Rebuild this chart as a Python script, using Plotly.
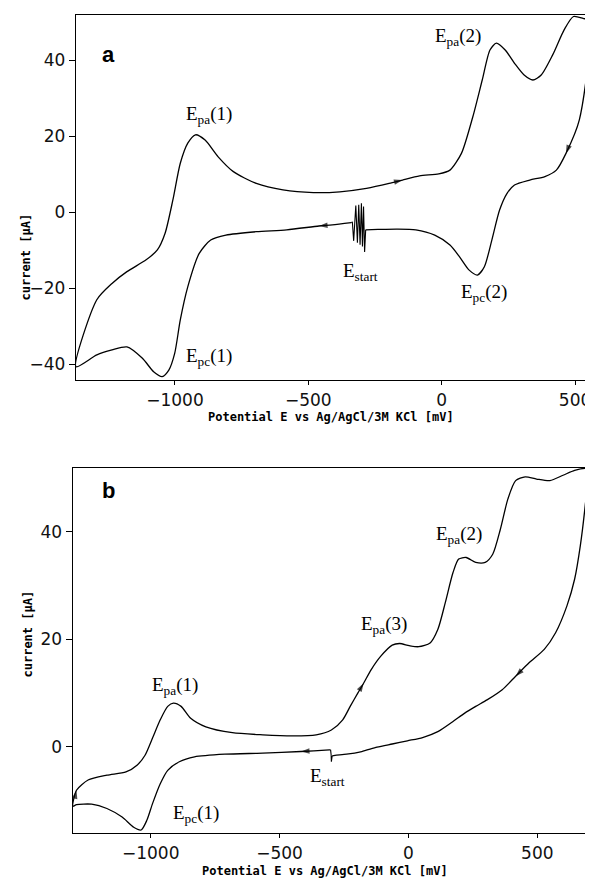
import plotly.graph_objects as go

# ---------------- Panel a data (mV, uA) ----------------
a_lower_x = [-339, -410, -460, -581, -695, -809, -866, -909, -952, -980, -1001, -1023, -1048, -1080, -1122, -1180, -1236, -1293, -1371]
a_lower_y = [-2.7, -3.3, -3.6, -4.6, -5.1, -6.0, -7.3, -10.8, -19.6, -28.3, -37.1, -41.5, -43.2, -41.9, -38.4, -35.4, -36.2, -37.5, -40.6]
a_upper_x = [-1371, -1293, -1236, -1180, -1108, -1066, -1037, -1008, -980, -952, -923, -887, -838, -781, -695, -595, -481, -382, -282, -197, -147, -83, -11, 31, 74, 117, 152, 181, 205, 238, 273, 309, 342, 373, 416, 459, 494, 530, 556]
a_upper_y = [-31.8, -23.0, -18.7, -15.6, -12.5, -9.9, -5.5, 3.2, 12.9, 18.2, 20.4, 19.0, 14.6, 10.7, 7.6, 5.9, 5.2, 5.4, 6.3, 7.6, 8.5, 9.6, 10.1, 11.1, 15.5, 25.2, 34.8, 42.7, 44.5, 42.7, 39.2, 36.1, 34.8, 36.1, 41.4, 48.0, 51.5, 51.0, 50.4]
a_rev_x = [556, 516, 466, 430, 387, 330, 273, 245, 217, 188, 160, 134, 103, 67, 31, -26, -97, -168, -239, -285]
a_rev_y = [33.9, 24.3, 15.5, 11.1, 9.4, 8.5, 7.2, 5.0, 0.6, -7.3, -14.3, -16.5, -15.2, -11.7, -8.6, -6.0, -4.6, -4.4, -4.5, -4.6]
a_noise_x = [-285, -289, -293, -297, -301, -306, -311, -316, -322, -330, -335, -339]
a_noise_y = [-4.6, -10.4, 1.5, -9.0, 2.4, -8.5, 2.0, -8.0, 1.8, -7.5, -2.5, -2.7]
a_lower_arrows = [-460]
a_upper_arrows = [-147]
a_rev_arrows = [466]

# ---------------- Panel b data (mV, uA) ----------------
b_lower_x = [-302, -307, -417, -565, -712, -830, -889, -934, -963, -993, -1015, -1037, -1066, -1111, -1170, -1229, -1288, -1302]
b_lower_y = [-0.6, -0.6, -0.9, -1.2, -1.4, -1.9, -2.8, -4.4, -6.9, -10.6, -13.7, -15.5, -15.0, -13.1, -11.5, -10.7, -10.8, -11.1]
b_upper_x = [-1302, -1288, -1243, -1170, -1096, -1052, -1022, -993, -963, -934, -912, -882, -845, -786, -683, -565, -447, -358, -299, -255, -226, -196, -174, -145, -108, -63, -34, 3, 40, 84, 114, 143, 173, 195, 224, 261, 298, 327, 357, 386, 416, 453, 497, 549, 600, 645, 689, 699]
b_upper_y = [-10.6, -8.1, -6.2, -5.3, -4.7, -3.4, -1.6, 1.6, 5.0, 7.5, 8.1, 7.5, 5.3, 3.7, 2.6, 2.2, 2.0, 2.2, 3.1, 5.0, 7.5, 10.0, 11.8, 14.3, 16.8, 18.9, 19.2, 18.8, 18.6, 19.3, 21.8, 26.8, 32.4, 34.9, 35.2, 34.3, 34.3, 35.8, 40.5, 46.1, 49.5, 50.2, 49.8, 49.5, 50.5, 51.4, 51.8, 51.7]
b_rev_x = [699, 686, 667, 645, 615, 571, 527, 468, 416, 364, 305, 261, 217, 173, 114, 55, -4, -63, -122, -181, -240, -285, -296]
b_rev_y = [51.7, 44.9, 37.4, 31.2, 26.2, 21.2, 18.1, 15.6, 13.1, 10.6, 8.7, 7.5, 6.2, 4.7, 2.8, 1.7, 1.1, 0.5, -0.1, -0.9, -1.4, -1.6, -1.7]
b_noise_x = [-296, -299, -300, -302]
b_noise_y = [-1.7, -2.8, -1.5, -0.6]
b_lower_arrows = [-417]
b_upper_arrows = [-1288, -174]
b_rev_arrows = [416]

# ---------------- Labels ----------------
a_labels = ["E<sub>pa</sub>(1)", "E<sub>pc</sub>(1)", "E<sub>pa</sub>(2)", "E<sub>pc</sub>(2)", "E<sub>start</sub>"]
a_label_x = [-873, -873, 60, 160, -303]
a_label_y = [25.6, -38.0, 46.2, -21.3, -15.6]
b_labels = ["E<sub>pa</sub>(1)", "E<sub>pc</sub>(1)", "E<sub>pa</sub>(3)", "E<sub>pa</sub>(2)", "E<sub>start</sub>"]
b_label_x = [-907, -823, -93, 195, -314]
b_label_y = [11.2, -12.6, 22.7, 39.3, -5.7]

x_ticks = [-1000, -500, 0, 500]
a_y_ticks = [-40, -20, 0, 20, 40]
b_y_ticks = [0, 20, 40]
x_title = "Potential E vs Ag/AgCl/3M KCl [mV]"
y_title = "current [µA]"

# the page body has an 8 px default margin, so the figure is drawn 8 px smaller
PAGE_W, PAGE_H, BODY = 593, 888, 8
W, H = PAGE_W - BODY, PAGE_H - BODY


def px(x):
    return (x - BODY) / W


def py(y):
    return 1 - (y - BODY) / H


def curve(branches, xa, ya):
    xs, ys, sizes = [], [], []
    for i, (xl, yl, arrows) in enumerate(branches):
        start = 0 if i == 0 else 1
        xs += xl[start:]
        ys += yl[start:]
        sizes += [9 if v in arrows else 0 for v in xl[start:]]
    return go.Scatter(
        x=xs, y=ys, mode="lines+markers", xaxis=xa, yaxis=ya,
        line=dict(color="black", width=1.3, shape="spline", smoothing=0.7),
        marker=dict(symbol="arrow", size=sizes, angleref="previous", color="black",
                    line=dict(width=0)),
        hoverinfo="skip", showlegend=False,
    )


fig = go.Figure()
fig.add_trace(curve([(a_lower_x, a_lower_y, a_lower_arrows),
                     (a_upper_x, a_upper_y, a_upper_arrows),
                     (a_rev_x, a_rev_y, a_rev_arrows)], "x", "y"))
fig.add_trace(go.Scatter(x=a_noise_x, y=a_noise_y, mode="lines", xaxis="x", yaxis="y",
                         line=dict(color="black", width=1.1), hoverinfo="skip", showlegend=False))
fig.add_trace(curve([(b_lower_x, b_lower_y, b_lower_arrows),
                     (b_upper_x, b_upper_y, b_upper_arrows),
                     (b_rev_x, b_rev_y, b_rev_arrows)], "x2", "y2"))
fig.add_trace(go.Scatter(x=b_noise_x, y=b_noise_y, mode="lines", xaxis="x2", yaxis="y2",
                         line=dict(color="black", width=1.1), hoverinfo="skip", showlegend=False))

tickfont = dict(family="DejaVu Sans", size=17, color="#111")
axis_common = dict(showline=True, mirror=True, linecolor="black", linewidth=1.3,
                   ticks="outside", tickcolor="black", showgrid=False, zeroline=False,
                   tickfont=tickfont, ticklabeloverflow="allow")

fig.update_layout(
    width=W, height=H, margin=dict(l=0, r=0, t=0, b=0),
    paper_bgcolor="white", plot_bgcolor="white",
    xaxis=dict(domain=[px(76), px(590)], range=[-1371, 556], tickvals=x_ticks, ticklen=4,
               anchor="y", **axis_common),
    yaxis=dict(domain=[py(380), py(15)], range=[-44.1, 51.9], tickvals=a_y_ticks, ticklen=6,
               anchor="x", **axis_common),
    xaxis2=dict(domain=[px(72.7), px(589.3)], range=[-1302.7, 701.8], tickvals=x_ticks, ticklen=4,
                anchor="y2", **axis_common),
    yaxis2=dict(domain=[py(833), py(468)], range=[-16.06, 51.85], tickvals=b_y_ticks, ticklen=6,
                anchor="x2", **axis_common),
)

label_font = dict(family="Liberation Serif", size=19, color="black")
for t, x, y in zip(a_labels, a_label_x, a_label_y):
    fig.add_annotation(text=t, x=x, y=y, xref="x", yref="y", showarrow=False, font=label_font)
for t, x, y in zip(b_labels, b_label_x, b_label_y):
    fig.add_annotation(text=t, x=x, y=y, xref="x2", yref="y2", showarrow=False, font=label_font)

panel_font = dict(family="Liberation Sans", size=22, color="black", weight="bold")
fig.add_annotation(text="a", x=px(100), y=py(40), xref="paper", yref="paper", showarrow=False, font=panel_font)
fig.add_annotation(text="b", x=px(100), y=py(490), xref="paper", yref="paper", showarrow=False, font=panel_font)

title_font = dict(family="DejaVu Sans Mono", size=12, color="black", weight="bold")
fig.add_annotation(text=x_title, x=px(331), y=py(417), xref="paper", yref="paper", showarrow=False, font=title_font)
fig.add_annotation(text=x_title, x=px(325), y=py(880), xref="paper", yref="paper", showarrow=False, font=title_font)
fig.add_annotation(text=y_title, x=px(16), y=py(212), xref="paper", yref="paper", showarrow=False,
                   textangle=-90, font=title_font)
fig.add_annotation(text=y_title, x=px(18), y=py(680), xref="paper", yref="paper", showarrow=False,
                   textangle=-90, font=title_font)

fig.write_html("out.html")
